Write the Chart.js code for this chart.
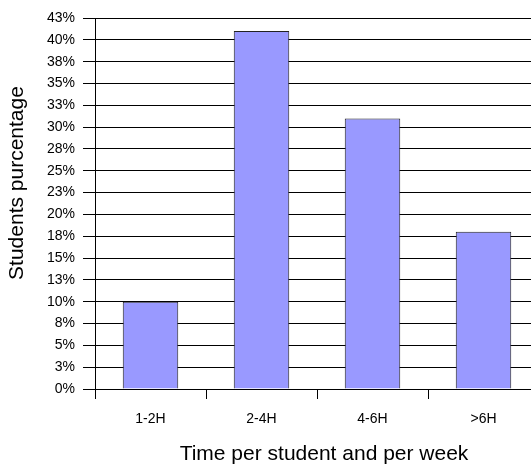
<!DOCTYPE html>
<html>
<head>
<meta charset="utf-8">
<script src="https://cdn.jsdelivr.net/npm/chart.js@4"></script>
<style>
  html, body { margin: 0; padding: 0; background: #fff; overflow: hidden; }
  #wrap { width: 540px; height: 468px; }
</style>
</head>
<body>
<div id="wrap"><canvas id="timeChart" width="540" height="468"></canvas></div>
<script>
// Chart data
const categories = ['1-2H', '2-4H', '4-6H', '>6H'];
const studentShare = [10, 41, 31, 18];
const yTitle = 'Students purcentage';
const xTitle = 'Time per student and per week';

const fontFamily = '"Liberation Sans", Arial, Helvetica, sans-serif';

// draw the axis titles where the original puts them
const axisTitles = {
    id: 'axisTitles',
    afterDraw(chart) {
        const ctx = chart.ctx;
        ctx.save();
        ctx.fillStyle = '#000';
        ctx.font = '21px ' + fontFamily;
        ctx.textAlign = 'center';
        ctx.textBaseline = 'middle';
        ctx.fillText(xTitle, 324, 454);
        ctx.translate(17, 183);
        ctx.rotate(-Math.PI / 2);
        ctx.fillText(yTitle, 0, 0);
        ctx.restore();
    }
};

const ctx = document.getElementById('timeChart').getContext('2d');

let timeChart = new Chart(ctx, {
    type: 'bar',
    data: {
        labels: categories,
        datasets: [{
            data: studentShare,
            backgroundColor: '#9999FF',
            borderColor: '#222',
            borderWidth: 1,
            categoryPercentage: 0.5,
            barPercentage: 1
        }]
    },
    options: {
        responsive: false,
        animation: false,
        layout: { padding: { top: 18, right: 1, left: 0, bottom: 0 } },
        plugins: {
            legend: { display: false },
            tooltip: { enabled: false }
        },
        scales: {
            x: {
                offset: true,
                grid: {
                    offset: true,
                    drawOnChartArea: false,
                    tickLength: 10,
                    color: '#000'
                },
                border: { color: '#000' },
                ticks: {
                    color: '#000',
                    padding: 12,
                    maxRotation: 0,
                    font: { family: fontFamily, size: 14 }
                },
                afterFit(scale) { scale.height = 79; }
            },
            y: {
                min: 0,
                max: 42.5,
                grid: { color: '#000', tickLength: 12 },
                border: { color: '#000' },
                ticks: {
                    stepSize: 2.5,
                    color: '#000',
                    padding: 8,
                    font: { family: fontFamily, size: 14 },
                    callback: (v) => Math.round(v) + '%'
                },
                afterFit(scale) { scale.width = 95; }
            }
        }
    },
    plugins: [axisTitles]
});
</script>
</body>
</html>
